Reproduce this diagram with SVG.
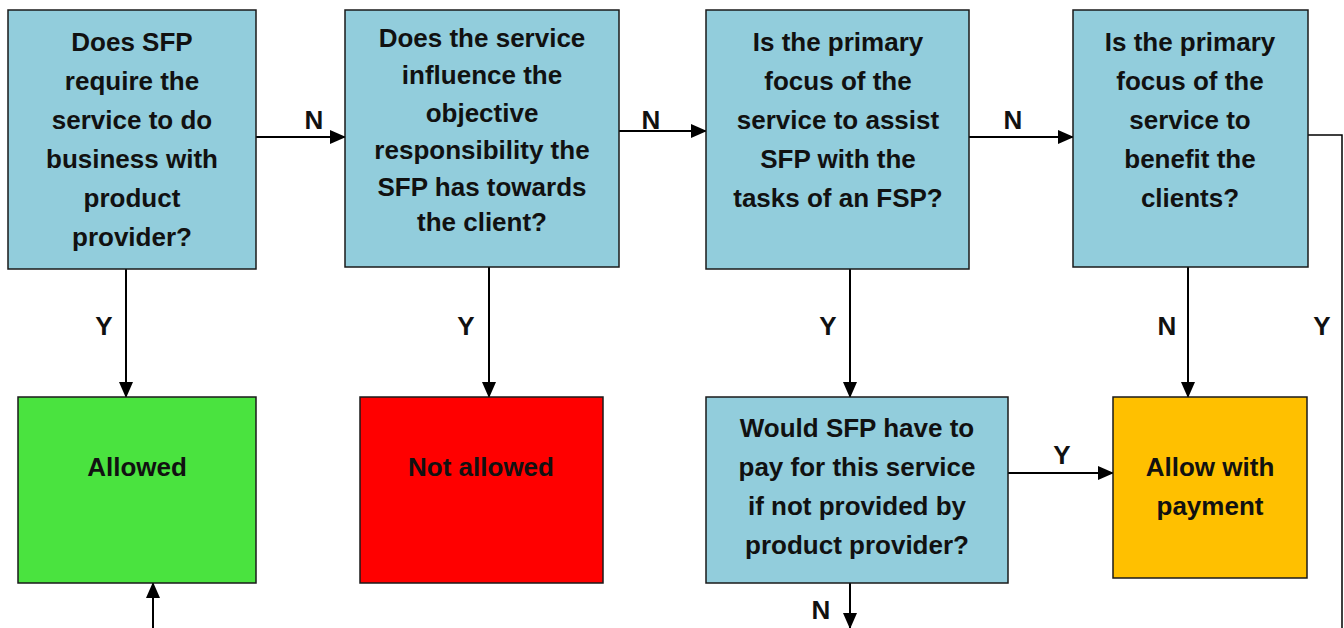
<svg xmlns="http://www.w3.org/2000/svg" width="1344" height="628" viewBox="0 0 1344 628">
<style>
.box{stroke:#1a1a1a;stroke-width:1.5}
.q{fill:#92CDDC}
.t{font-family:"Liberation Sans",Arial,sans-serif;font-weight:bold;font-size:26px;fill:#111;text-anchor:middle}
.c{stroke:#000;stroke-width:2;fill:none}
.a{marker-end:url(#ah)}
</style>
<defs>
<marker id="ah" markerUnits="userSpaceOnUse" markerWidth="16" markerHeight="14" refX="15" refY="7" orient="auto">
<path d="M0,0 L16,7 L0,14 Z" fill="#000"/>
</marker>
</defs>
<rect width="1344" height="628" fill="#fff"/>
<g id="connectors">
<line class="c a" x1="256" y1="137" x2="345" y2="137"/>
<line class="c a" x1="619" y1="131" x2="706" y2="131"/>
<line class="c a" x1="969" y1="137" x2="1073" y2="137"/>
<line class="c a" x1="126" y1="269" x2="126" y2="397"/>
<line class="c a" x1="489" y1="267" x2="489" y2="397"/>
<line class="c a" x1="850" y1="269" x2="850" y2="397"/>
<line class="c a" x1="1188" y1="267" x2="1188" y2="397"/>
<line class="c a" x1="1008" y1="473" x2="1113" y2="473"/>
<line class="c a" x1="850" y1="583" x2="850" y2="628"/>
<line class="c a" x1="153" y1="628" x2="153" y2="583"/>
<polyline class="c" points="1308,135 1342,135 1342,628" style="stroke-width:1.5"/>
<text class="t" x="314" y="129">N</text>
<text class="t" x="651" y="129">N</text>
<text class="t" x="1013" y="129">N</text>
<text class="t" x="104" y="335">Y</text>
<text class="t" x="466" y="335">Y</text>
<text class="t" x="828" y="335">Y</text>
<text class="t" x="1167" y="335">N</text>
<text class="t" x="1322" y="335">Y</text>
<text class="t" x="1062" y="464">Y</text>
<text class="t" x="821" y="619">N</text>
</g>
<g id="q1">
<rect class="box q" x="8" y="10" width="248" height="259"/>
<text class="t" x="132" y="51">Does SFP</text>
<text class="t" x="132" y="90">require the</text>
<text class="t" x="132" y="129">service to do</text>
<text class="t" x="132" y="168">business with</text>
<text class="t" x="132" y="207">product</text>
<text class="t" x="132" y="246">provider?</text>
</g>
<g id="q2">
<rect class="box q" x="345" y="10" width="274" height="257"/>
<text class="t" x="482" y="47">Does the service</text>
<text class="t" x="482" y="84">influence the</text>
<text class="t" x="482" y="122">objective</text>
<text class="t" x="482" y="159">responsibility the</text>
<text class="t" x="482" y="196">SFP has towards</text>
<text class="t" x="482" y="231">the client?</text>
</g>
<g id="q3">
<rect class="box q" x="706" y="10" width="263" height="259"/>
<text class="t" x="838" y="51">Is the primary</text>
<text class="t" x="838" y="90">focus of the</text>
<text class="t" x="838" y="129">service to assist</text>
<text class="t" x="838" y="168">SFP with the</text>
<text class="t" x="838" y="207">tasks of an FSP?</text>
</g>
<g id="q4">
<rect class="box q" x="1073" y="10" width="235" height="257"/>
<text class="t" x="1190" y="51">Is the primary</text>
<text class="t" x="1190" y="90">focus of the</text>
<text class="t" x="1190" y="129">service to</text>
<text class="t" x="1190" y="168">benefit the</text>
<text class="t" x="1190" y="207">clients?</text>
</g>
<g id="allowed">
<rect class="box" x="18" y="397" width="238" height="186" fill="#4AE33F"/>
<text class="t" x="137" y="476">Allowed</text>
</g>
<g id="notallowed">
<rect class="box" x="360" y="397" width="243" height="186" fill="#FF0000"/>
<text class="t" x="481" y="476">Not allowed</text>
</g>
<g id="q5">
<rect class="box q" x="706" y="397" width="302" height="186"/>
<text class="t" x="857" y="437">Would SFP have to</text>
<text class="t" x="857" y="476">pay for this service</text>
<text class="t" x="857" y="515">if not provided by</text>
<text class="t" x="857" y="554">product provider?</text>
</g>
<g id="allowpay">
<rect class="box" x="1113" y="397" width="194" height="181" fill="#FFC000"/>
<text class="t" x="1210" y="476">Allow with</text>
<text class="t" x="1210" y="515">payment</text>
</g>
</svg>
